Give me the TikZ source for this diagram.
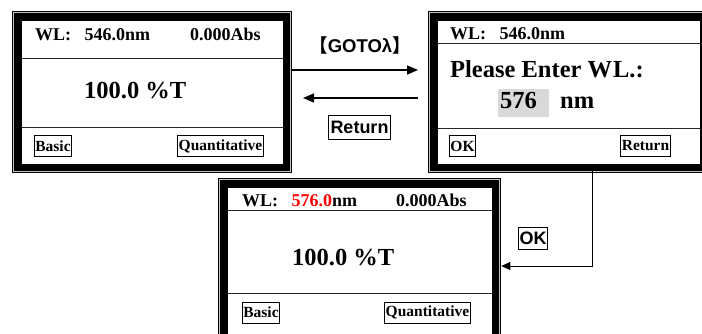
\documentclass[tikz,border=0pt]{standalone}
\usepackage{fontspec}
\setmainfont{Liberation Serif}
\newfontfamily\arial{Liberation Sans}
\newfontfamily\cjk{Noto Sans CJK SC}
\usetikzlibrary{arrows.meta}
\begin{document}
\begin{tikzpicture}[x=1pt,y=-1pt,
  screen/.style={draw=black,line width=0.6pt,fill=white,inner sep=0pt,
    preaction={draw=black,line width=18pt},
    preaction={draw=gray!45,line width=16pt},
    preaction={draw=black,line width=14pt}},
  divider/.style={draw=black!85,line width=0.9pt},
  top/.style={anchor=base west,inner sep=0pt,font=\bfseries\fontsize{18}{19}\selectfont},
  big/.style={anchor=base west,inner sep=0pt,font=\bfseries\fontsize{24.5}{26}\selectfont},
  btn/.style={draw=black,line width=0.8pt,inner xsep=1pt,inner ysep=0pt,minimum height=21pt,
    font=\bfseries\fontsize{15.5}{16}\selectfont},
  lab/.style={inner sep=0pt,font=\arial\bfseries\fontsize{18.5}{20}\selectfont},
  labbox/.style={draw=black,line width=0.8pt,inner xsep=2pt,inner ysep=0pt,minimum height=24pt,
    font=\arial\bfseries\fontsize{18}{20}\selectfont},
  arr/.style={draw=black,line width=1.3pt,-{Triangle[length=11pt,width=9pt]}},
  arrok/.style={draw=black,line width=1pt,-{Triangle[length=9pt,width=8pt]}}
]
\useasboundingbox (0,0) rectangle (702,334);
\begin{scope}
\clip (0,0) rectangle (702,334);
% screens
\node[screen,minimum width=262pt,minimum height=144pt] (s1) at (152,92) {};
\node[screen,minimum width=263pt,minimum height=144pt] (s2) at (568.5,92) {};
\node[screen,minimum width=265pt,minimum height=163pt] (s3) at (359.5,268.5) {};
% dividers
\draw[divider] (s1.west |- 0,58) -- (s1.east |- 0,58);
\draw[divider] (s1.west |- 0,127) -- (s1.east |- 0,127);
\draw[divider] (s2.west |- 0,43) -- (s2.east |- 0,43);
\draw[divider] (s2.west |- 0,128) -- (s2.east |- 0,128);
\draw[divider] (s3.west |- 0,210) -- (s3.east |- 0,210);
\draw[divider] (s3.west |- 0,293) -- (s3.east |- 0,293);
% screen 1
\node[top] (s1wl) at (35,41) {WL:\hspace{0.75em}546.0nm};
\node[top] (s1abs) at (190,41) {0.000Abs};
\node[big] (s1t) at (84,99) {100.0 \%T};
\node[btn] (s1b) at (53,146) {Basic};
\node[btn] (s1q) at (220.5,146) {Quantitative};
% screen 2
\node[top] (s2wl) at (450,40) {WL:\hspace{0.75em}546.0nm};
\node[big] (s2p) at (450,78) {Please Enter W\kern1pt L.:};
\fill[gray!30] (498,89) rectangle (549,117);
\node[big] (s2n) at (500,109) {576};
\node[big] (s2nm) at (560,109) {nm};
\node[btn] (s2ok) at (462.5,146) {OK};
\node[btn] (s2r) at (645.5,146) {Return};
% screen 3
\node[top] (s3wl) at (242,207) {WL:\hspace{0.75em}\textcolor{red}{576.0}nm};
\node[top] (s3abs) at (396,207) {0.000Abs};
\node[big] (s3t) at (292,265) {100.0 \%T};
\node[btn] (s3b) at (261,312.5) {Basic};
\node[btn] (s3q) at (427.5,312.5) {Quantitative};
% labels
\node[lab] (goto) at (360,45) {{\cjk 【}GOTOλ{\cjk 】}};
\node[labbox] (ret) at (359.5,127.5) {Return};
\node[labbox,minimum height=22pt,inner xsep=1pt] (ok) at (533,238) {OK};
% connectors
\coordinate (g0) at (291,70);
\coordinate (g1) at (418,70);
\coordinate (r0) at (418,98);
\coordinate (r1) at (303,98);
\coordinate (okc) at (592,266);
\draw[arr] (g0) -- (g1);
\draw[arr] (r0) -- (r1);
\draw[arrok] (s2.south -| okc) -- (okc) -- ([xshift=9pt]s3.east |- okc);
\end{scope}
\end{tikzpicture}
\end{document}
